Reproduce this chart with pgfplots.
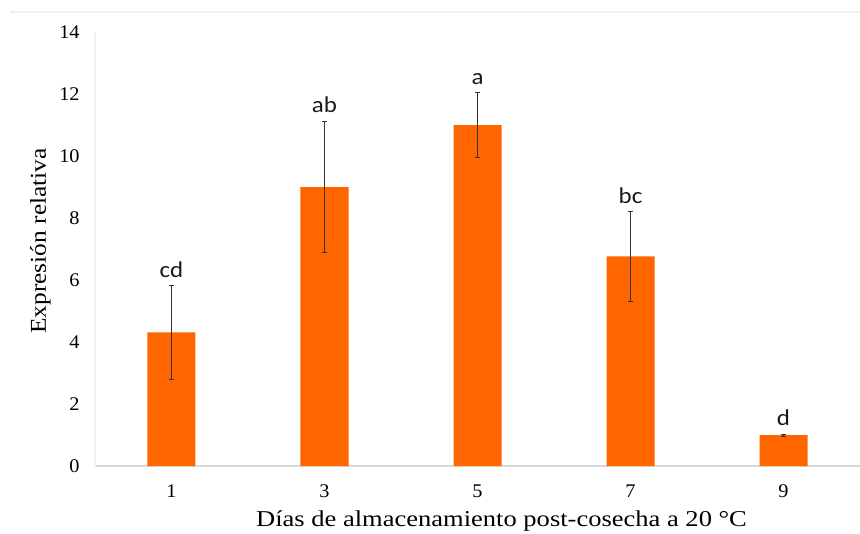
\documentclass[border=0pt]{standalone}
\usepackage{fontspec}
\usepackage{pgfplots}
\usepackage{pgfplotstable}
\usetikzlibrary{calc}
\pgfplotsset{compat=1.18}
\setmainfont{Liberation Serif}
\newfontfamily\tickfont[FakeStretch=1.05]{Liberation Serif}
\newfontfamily\xlabfont[FakeStretch=1.17]{Liberation Serif}
\newfontfamily\ylabfont[FakeStretch=1.12]{Liberation Serif}
\newfontfamily\letfont[FakeStretch=1.1]{Carlito}
\definecolor{barorange}{RGB}{255,102,0}
\definecolor{gridgrey}{RGB}{217,217,217}

\pgfplotstableread{
x y e lab
1 4.31 1.51 cd
2 9.00 2.12 ab
3 11.00 1.05 a
4 6.76 1.45 bc
5 1.00 0.03 d
}\datatable

\begin{document}
\begin{tikzpicture}
\begin{axis}[
  scale only axis,
  width=573.75pt, height=325.5pt,
  xmin=0.5, xmax=5.5,
  ymin=0, ymax=14,
  xtick={1,2,3,4,5},
  xticklabels={1,3,5,7,9},
  ytick={0,2,...,14},
  major tick length=0pt,
  axis x line*=bottom,
  axis y line*=left,
  x axis line style={draw=gridgrey, line width=0.8pt},
  y axis line style={draw=gray!10, line width=0.8pt},
  /pgf/number format/assume math mode=true,
  ticklabel style={font=\fontsize{14.5}{16}\tickfont, text=black},
  yticklabel style={anchor=east, xshift=-8pt},
  xticklabel style={anchor=center, yshift=-19pt},
  clip=false,
]
\addplot[ybar, bar width=36pt, fill=barorange, draw=none,
  error bars/.cd, y dir=both, y explicit,
  error bar style={black!80, line width=0.5pt},
  error mark options={rotate=90, black!80, mark size=2pt, line width=0.5pt}]
  table[x=x, y=y, y error=e] {\datatable};
\addplot[draw=none, mark=none,
  nodes near coords, point meta=explicit symbolic,
  nodes near coords style={anchor=south, font=\fontsize{17}{19}\letfont, text=black!90, inner sep=2pt, yshift=4pt}]
  table[x=x, y expr=\thisrow{y}+\thisrow{e}, meta=lab] {\datatable};
\coordinate (BL) at (rel axis cs:0,0);
\coordinate (TR) at (rel axis cs:1,1);
\end{axis}
\draw[gray!12, line width=0.8pt] ([xshift=-64pt,yshift=15pt]BL|-TR) -- ([yshift=15pt]TR);
\node[font=\fontsize{17}{19}\xlabfont, text=black] at ([xshift=18pt,yshift=-41pt]$(BL)!0.5!(BL-|TR)$) {Días de almacenamiento post-cosecha a 20 °C};
\node[font=\fontsize{17}{19}\ylabfont, text=black, rotate=90] at ([xshift=-41pt,yshift=6pt]$(BL)!0.5!(BL|-TR)$) {Expresión relativa};
\pgfresetboundingbox
\path[use as bounding box] ([xshift=-71.25pt,yshift=-50.25pt]BL) rectangle ([yshift=24pt]TR);
\end{tikzpicture}
\end{document}
